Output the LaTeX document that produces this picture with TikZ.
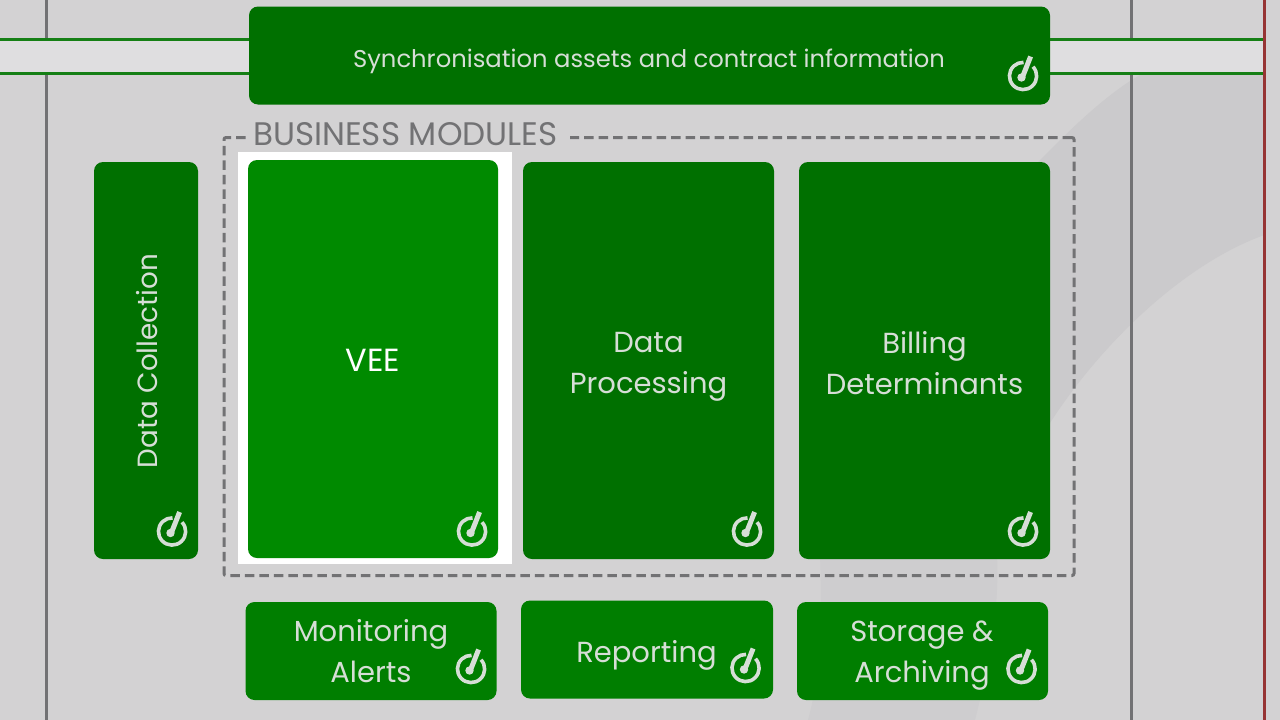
\documentclass[tikz,border=0pt]{standalone}
\usepackage{fontspec}
\setmainfont{Poppins}
\definecolor{bgc}{HTML}{D3D2D3}
\definecolor{bandc}{HTML}{DFDEE0}
\definecolor{swooshc}{HTML}{CBCACC}
\definecolor{colc}{HTML}{CECDCF}
\definecolor{darkg}{HTML}{007000}
\definecolor{midg}{HTML}{007E00}
\definecolor{brightg}{HTML}{008A00}
\definecolor{lineg}{HTML}{157F15}
\definecolor{greyl}{HTML}{727274}
\definecolor{redl}{HTML}{963434}
\definecolor{txtc}{HTML}{D6DED6}
\tikzset{
  x=1pt,y=-1pt,
  modbox/.style={rounded corners=9pt,fill=#1,draw=none,inner sep=0pt},
  lab/.style={text=txtc,align=center,font=\fontsize{29}{41}\selectfont,inner sep=0pt},
  glink/.style={draw=lineg,line width=3pt},
  vline/.style={draw=greyl,line width=3pt},
  gauge/.pic={
    \begin{scope}[y=1pt]
      \draw[txtc,line width=3.6pt] (10,9.3) arc[start angle=43,end angle=-272,radius=13.6pt];
      \draw[txtc,line width=5pt] (-0.5,-1) -- (7.6,19.5);
      \fill[txtc] (-1.5,-1.5) circle[radius=4.2pt];
    \end{scope}
  }
}
\begin{document}
\begin{tikzpicture}
\useasboundingbox (0,0) rectangle (1280,720);
\fill[bgc] (0,0) rectangle (1280,720);
% background shapes
\fill[swooshc] (1280,75) -- (1140,75) .. controls (1105,95) and (1070,130) .. (1043,157) -- (1000,200) -- (1000,423) -- (1050,423) .. controls (1100,345) and (1190,255) .. (1280,230) -- cycle;
\fill[colc] (820,555) -- (997,555) .. controls (1000,620) and (985,680) .. (975,720) -- (808,720) .. controls (822,670) and (822,610) .. (820,555) -- cycle;
% band
\fill[bandc] (0,39) rectangle (1263,73);
\fill[bgc] (1266,0) rectangle (1280,720);
% rails
\coordinate (ga1) at (46,0); \coordinate (ga2) at (46,38);
\coordinate (gb1) at (46,75); \coordinate (gb2) at (46,720);
\coordinate (ha1) at (1131,0); \coordinate (ha2) at (1131,38);
\coordinate (hb1) at (1131,75); \coordinate (hb2) at (1131,720);
\coordinate (ra) at (1264,0); \coordinate (rb) at (1264,720);
\draw[vline] (ga1) -- (ga2);
\draw[vline] (gb1) -- (gb2);
\draw[vline] (ha1) -- (ha2);
\draw[vline] (hb1) -- (hb2);
\draw[draw=redl,line width=3pt] (ra) -- (rb);
% business frame
\node[draw=greyl,line width=3pt,dash pattern=on 9.5pt off 5pt,rounded corners=2pt,minimum width=850pt,minimum height=438pt,inner sep=0pt] (frame) at (649,356.5) {};
\fill[bgc] (246,125) rectangle (570,148);
\node[anchor=west,text=greyl,font=\fontsize{32.6}{33}\selectfont,inner sep=0pt] (bm) at (253,134) {BUSINESS MODULES};
% sync box
\node[modbox=darkg,minimum width=801pt,minimum height=98pt] (sync) at (649.5,55.5) {};
\node[lab,font=\fontsize{24.25}{30}\selectfont] (synct) at (649,61) {Synchronisation assets and contract information};
\coordinate (l1) at (0,39.5); \coordinate (l2) at (0,73);
\coordinate (r1) at (1263,39.5); \coordinate (r2) at (1263,73);
\draw[glink] (l1) -- (sync.west |- l1);
\draw[glink] (l2) -- (sync.west |- l2);
\draw[glink] (sync.east |- r1) -- (r1);
\draw[glink] (sync.east |- r2) -- (r2);
% highlight
\node[fill=white,minimum width=274pt,minimum height=412pt,inner sep=0pt] (hl) at (375,358) {};
% modules
\node[modbox=darkg,minimum width=104pt,minimum height=397pt] (dc) at (146,360.5) {};
\node[lab,font=\fontsize{27.8}{41}\selectfont,rotate=90] (dct) at (147,361) {Data Collection};
\node[modbox=brightg,minimum width=250pt,minimum height=398pt] (vee) at (373,359) {};
\node[lab,text=white,font=\fontsize{32}{41}\selectfont] (veet) at (373,360) {VEE};
\node[modbox=darkg,minimum width=251pt,minimum height=397pt] (dp) at (648.5,360.5) {};
\node[lab] (dpt) at (648.5,367) {Data\\Processing};
\node[modbox=darkg,minimum width=251pt,minimum height=397pt] (bd) at (924.5,360.5) {};
\node[lab] (bdt) at (924.5,363) {Billing\\Determinants};
% bottom row
\node[modbox=midg,minimum width=251pt,minimum height=98pt] (ma) at (371,651) {};
\node[lab] (mat) at (371,651) {Monitoring\\Alerts};
\node[modbox=midg,minimum width=252pt,minimum height=98pt] (rp) at (647,649.5) {};
\node[lab] (rpt) at (646.5,655) {Reporting};
\node[modbox=midg,minimum width=251pt,minimum height=98pt] (sa) at (922.5,651) {};
\node[lab] (sat) at (922,656) {Storage \&\\Archiving};
% gauges
\foreach \p in {(1023,76),(172,531.5),(747,531.5),(1023,531.5),(471,669),(745.5,668),(1021.5,669),(472,531.5)}
  \pic at \p {gauge};
\end{tikzpicture}
\end{document}
